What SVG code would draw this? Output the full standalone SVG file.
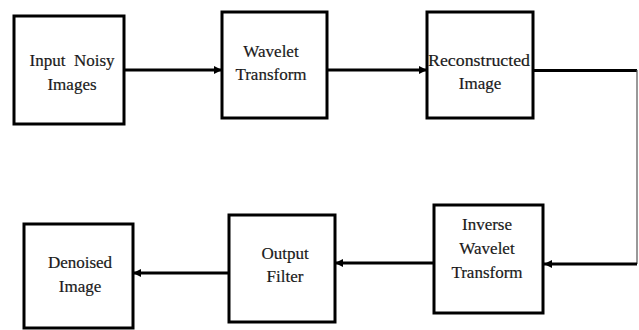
<svg xmlns="http://www.w3.org/2000/svg" width="639" height="330" viewBox="0 0 639 330">
<style>
.box{fill:#fff;stroke:#000;stroke-width:3}
.c{fill:none;stroke:#000;stroke-width:3}
.thin{fill:none;stroke:#555;stroke-width:1.2}
</style>
<defs>
<marker id="ah" markerWidth="8" markerHeight="8" refX="8" refY="4" orient="auto" markerUnits="userSpaceOnUse">
<path d="M0,0 L8,4 L0,8 Z" fill="#000"/>
</marker>
</defs>
<g id="connectors">
<line class="c" x1="124" y1="70" x2="222" y2="70" marker-end="url(#ah)"/>
<line class="c" x1="327" y1="70" x2="427" y2="70" marker-end="url(#ah)"/>
<line class="c" x1="533" y1="70.5" x2="637" y2="70.5"/>
<line class="thin" x1="637" y1="70" x2="637" y2="264"/>
<line class="c" x1="637" y1="264" x2="544" y2="264" marker-end="url(#ah)"/>
<line class="c" x1="434" y1="263" x2="335" y2="263" marker-end="url(#ah)"/>
<line class="c" x1="229" y1="273" x2="133" y2="273" marker-end="url(#ah)"/>
</g>
<g id="n1"><rect class="box" x="14" y="16" width="110" height="108"/>
<text x="72" y="66" font-family="Liberation Serif" font-size="17" text-anchor="middle" fill="#1a1a1a" stroke="#1a1a1a" stroke-width="0.2">Input&#160; Noisy</text>
<text x="72" y="90" font-family="Liberation Serif" font-size="17" text-anchor="middle" fill="#1a1a1a" stroke="#1a1a1a" stroke-width="0.2">Images</text></g>
<g id="n2"><rect class="box" x="222" y="12" width="105" height="106"/>
<text x="271" y="57" font-family="Liberation Serif" font-size="17" text-anchor="middle" fill="#1a1a1a" stroke="#1a1a1a" stroke-width="0.2">Wavelet</text>
<text x="271" y="80" font-family="Liberation Serif" font-size="17" text-anchor="middle" fill="#1a1a1a" stroke="#1a1a1a" stroke-width="0.2">Transform</text></g>
<g id="n3"><rect class="box" x="427" y="12" width="106" height="106"/>
<text x="479" y="66" font-family="Liberation Serif" font-size="17" text-anchor="middle" fill="#1a1a1a" stroke="#1a1a1a" stroke-width="0.2" textLength="102" lengthAdjust="spacingAndGlyphs">Reconstructed</text>
<text x="480" y="89" font-family="Liberation Serif" font-size="17" text-anchor="middle" fill="#1a1a1a" stroke="#1a1a1a" stroke-width="0.2">Image</text></g>
<g id="n4"><rect class="box" x="434" y="205" width="109" height="108"/>
<text x="487" y="230" font-family="Liberation Serif" font-size="17" text-anchor="middle" fill="#1a1a1a" stroke="#1a1a1a" stroke-width="0.2">Inverse</text>
<text x="487" y="254" font-family="Liberation Serif" font-size="17" text-anchor="middle" fill="#1a1a1a" stroke="#1a1a1a" stroke-width="0.2">Wavelet</text>
<text x="487" y="278" font-family="Liberation Serif" font-size="17" text-anchor="middle" fill="#1a1a1a" stroke="#1a1a1a" stroke-width="0.2">Transform</text></g>
<g id="n5"><rect class="box" x="229" y="215" width="106" height="107"/>
<text x="285" y="259" font-family="Liberation Serif" font-size="17" text-anchor="middle" fill="#1a1a1a" stroke="#1a1a1a" stroke-width="0.2">Output</text>
<text x="285" y="282" font-family="Liberation Serif" font-size="17" text-anchor="middle" fill="#1a1a1a" stroke="#1a1a1a" stroke-width="0.2">Filter</text></g>
<g id="n6"><rect class="box" x="24" y="224" width="109" height="104"/>
<text x="80" y="268" font-family="Liberation Serif" font-size="17" text-anchor="middle" fill="#1a1a1a" stroke="#1a1a1a" stroke-width="0.2">Denoised</text>
<text x="80" y="292" font-family="Liberation Serif" font-size="17" text-anchor="middle" fill="#1a1a1a" stroke="#1a1a1a" stroke-width="0.2">Image</text></g>
</svg>
